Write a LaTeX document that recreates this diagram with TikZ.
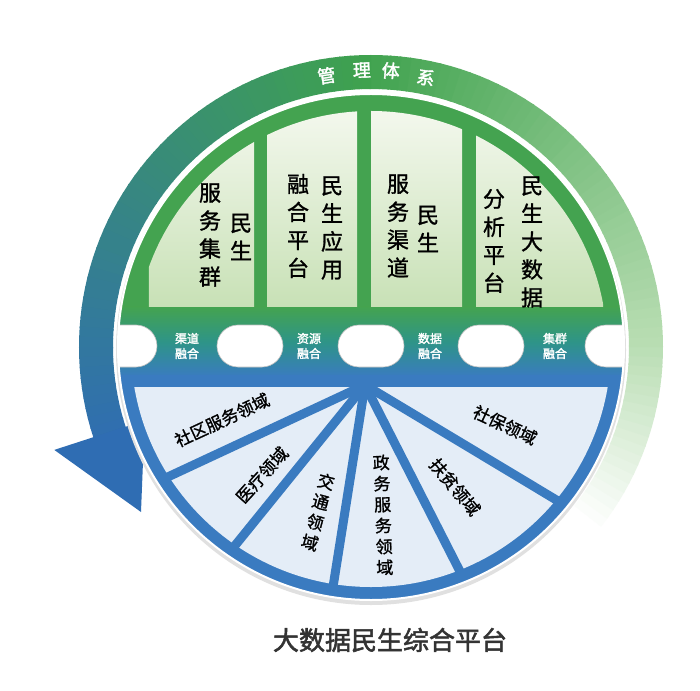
\documentclass[tikz,border=0pt]{standalone}
\usepackage{fontspec}
\newfontfamily\cjk{Noto Sans CJK SC}[FakeBold=1.2]
\newfontfamily\cjkb{Noto Sans CJK SC}[FakeBold=2]
\usetikzlibrary{shapes.misc,calc}
\definecolor{ringA}{HTML}{B8DDB2}
\definecolor{ringB}{HTML}{3FA24E}
\definecolor{ringC}{HTML}{2F6DB3}
\definecolor{domeG}{HTML}{44A350}
\definecolor{bandT}{HTML}{2E9488}
\definecolor{lowB}{HTML}{3A7BC0}
\definecolor{panelT}{HTML}{F4F8EE}
\definecolor{panelB}{HTML}{C8E1B6}
\definecolor{wedgeC}{HTML}{E4EDF7}
\tikzset{
  paneltxt/.style={font=\cjk\fontsize{22}{28}\selectfont, align=center, inner sep=0pt, text=black},
  bandtxt/.style={font=\cjkb\fontsize{12}{15}\selectfont, align=center, inner sep=0pt, text=white},
  wedgetxt/.style={font=\cjk\fontsize{17}{21}\selectfont, align=center, inner sep=0pt, text=black},
  ringtxt/.style={font=\cjkb\fontsize{18}{18}\selectfont, inner sep=0pt, text=white},
  capsule/.style={rounded rectangle, fill=white, draw=black!25, line width=0.6pt, minimum width=66pt, minimum height=42pt, inner sep=0pt},
  spoke/.style={draw=lowB, line width=9pt},
}
\begin{document}
\begin{tikzpicture}[x=1pt,y=1pt]
\useasboundingbox (-371,-343) rectangle (329,347);
\fill[white] (-371,-343) rectangle (329,347);
% outer ring
\foreach \a in {-40,-38,...,198}{
  \pgfmathtruncatemacro\seg{\a<0 ? 0 : (\a<90 ? 1 : 2)}
  \ifcase\seg
    \pgfmathtruncatemacro\p{(\a+40)*100/40}\colorlet{rc}{ringA!\p!white}
  \or
    \pgfmathtruncatemacro\p{\a*100/90}\colorlet{rc}{ringB!\p!ringA}
  \or
    \pgfmathtruncatemacro\p{(\a-90)*100/110}\colorlet{rc}{ringC!\p!ringB}
  \fi
  \fill[rc] (\a:258) arc(\a:\a+2.3:258) -- (\a+2.3:292) arc(\a+2.3:\a:292) -- cycle;
}
\coordinate (ahA) at (198:333);
\coordinate (ahB) at (198:238);
\coordinate (ahT) at (-230,-165);
\fill[ringC] (ahA) -- (ahT) -- (ahB) -- cycle;
% ring text
\node[ringtxt, rotate=9.3] (r1) at (99.3:275) {管};
\node[ringtxt, rotate=1.9] (r2) at (91.9:277) {理};
\node[ringtxt, rotate=-4.1] (r3) at (85.9:277) {体};
\node[ringtxt, rotate=-11.5] (r4) at (78.5:275) {系};
% disk
\fill[black!12] (0,-3) circle (255);
\begin{scope}
  \clip (0,0) circle (253);
  \fill[domeG] (-260,38) rectangle (260,260);
  \shade[top color=domeG, bottom color=lowB, middle color=bandT] (-260,40) rectangle (260,-30);
  \fill[lowB] (-260,-28) rectangle (260,-260);
  \node[capsule] (c0) at (-247,1) {};
  \node[capsule] (c1) at (-121,1) {};
  \node[capsule] (c2) at (0,1) {};
  \node[capsule] (c3) at (120,1) {};
  \node[capsule] (c4) at (247,1) {};
\end{scope}
% panels
\begin{scope}
  \clip (0,0) circle (236);
  \shade[top color=panelT, bottom color=panelB] (-222,40) rectangle (-117,240);
  \shade[top color=panelT, bottom color=panelB] (-104,40) rectangle (-14,240);
  \shade[top color=panelT, bottom color=panelB] (0,40) rectangle (91,240);
  \shade[top color=panelT, bottom color=panelB] (105,40) rectangle (232,240);
\end{scope}
% wedges
\begin{scope}
  \clip (0,0) circle (240);
  \fill[wedgeC] (-250,-40) rectangle (250,-250);
\end{scope}
\coordinate (hub) at (-6,-38);
\begin{scope}
  \clip (0,0) circle (245);
  \foreach \ang in {-155,-129,-99,-63,-31}{
    \draw[spoke] (hub) -- ($(hub)+(\ang:300)$);
  }
\end{scope}
\draw[white, line width=2pt] (0,0) circle (253);
% panel texts
\node[paneltxt] (p1a) at (-130,110) {民\\生};
\node[paneltxt] (p1b) at (-161,112) {服\\务\\集\\群};
\node[paneltxt] (p2a) at (-39,119) {民\\生\\应\\用};
\node[paneltxt] (p2b) at (-73,121) {融\\合\\平\\台};
\node[paneltxt] (p3a) at (57,118) {民\\生};
\node[paneltxt] (p3b) at (27,121) {服\\务\\渠\\道};
\node[paneltxt] (p4a) at (161,105) {民\\生\\大\\数\\据};
\node[paneltxt] (p4b) at (123,106) {分\\析\\平\\台};
% band labels
\node[bandtxt] (b1) at (-184,1) {渠道\\融合};
\node[bandtxt] (b2) at (-62,1) {资源\\融合};
\node[bandtxt] (b3) at (59,1) {数据\\融合};
\node[bandtxt] (b4) at (184,1) {集群\\融合};
% wedge labels
\node[wedgetxt, rotate=25] (w1) at (-149,-73) {社区服务领域};
\node[wedgetxt, rotate=48] (w2) at (-109,-128) {医疗领域};
\node[wedgetxt, rotate=-15] (w3) at (-53,-165) {交\\通\\领\\域};
\node[wedgetxt, rotate=2] (w4) at (12,-168) {政\\务\\服\\务\\领\\域};
\node[wedgetxt, rotate=-50] (w5) at (84,-140) {扶贫领域};
\node[wedgetxt, rotate=-25] (w6) at (134,-78) {社保领域};
% title
\node[font=\cjkb\fontsize{26}{30}\selectfont, text=black!80, inner sep=0pt] (title) at (19,-293) {大数据民生综合平台};
\end{tikzpicture}
\end{document}
